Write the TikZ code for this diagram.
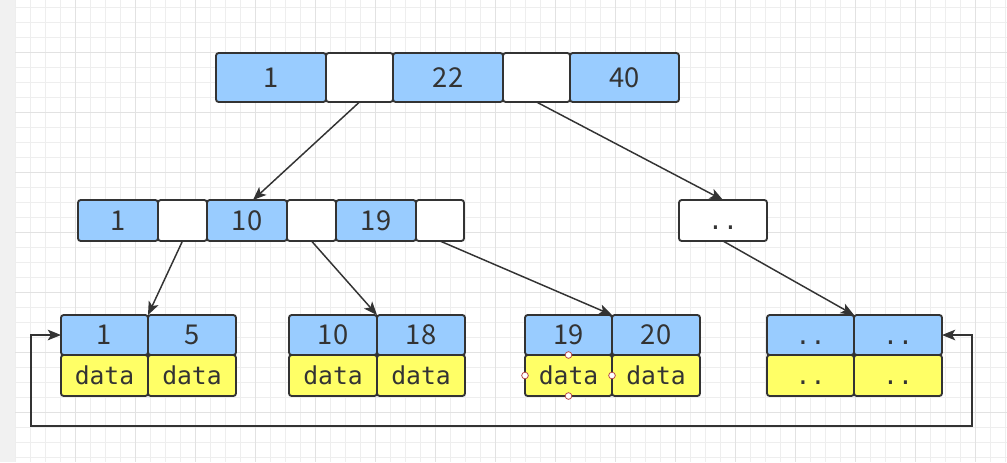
\documentclass[tikz,border=0pt]{standalone}
\usepackage{fontspec}
\setmainfont{Noto Sans CJK SC}
\newfontfamily\monof{DejaVu Sans Mono}
\usetikzlibrary{arrows.meta,calc}
\definecolor{blu}{HTML}{99CCFF}
\definecolor{yel}{HTML}{FFFF66}
\definecolor{ink}{HTML}{333333}
\definecolor{gmin}{HTML}{EEEEEE}
\definecolor{gmaj}{HTML}{E2E2E2}
\definecolor{stripc}{HTML}{F1F1F1}
\definecolor{hdl}{HTML}{B84A4A}
\def\pxu{0.75pt}
\newcommand\cellat[6]{\node[#1, minimum width=#4*\pxu, minimum height=#5*\pxu] (#2) at (#3) {#6};}
\begin{document}
\begin{tikzpicture}[x=0.75pt,y=-0.75pt,
 cell/.style={draw=ink, line width=1.4pt, rounded corners=2pt, inner sep=0pt, outer sep=0pt, text=ink},
 blucell/.style={cell, fill=blu, font=\fontsize{20.5}{24}\selectfont},
 whtcell/.style={cell, fill=white, font=\monof\fontsize{18.5}{22}\selectfont},
 yelcell/.style={cell, fill=yel, font=\monof\fontsize{18.5}{22}\selectfont},
 bdots/.style={cell, fill=blu, font=\monof\fontsize{18.5}{22}\selectfont},
 arr/.style={draw=ink, line width=1.1pt, -{Stealth[length=10pt,width=8pt,inset=2.5pt]}},
 dblarr/.style={draw=ink, line width=1.1pt, {Stealth[length=10pt,width=8pt,inset=2.5pt]}-{Stealth[length=10pt,width=8pt,inset=2.5pt]}},
 hnd/.style={circle, draw=hdl, fill=white, line width=0.6pt, minimum size=5pt, inner sep=0pt}]
\useasboundingbox (0,0) rectangle (1007,462);
% background grid
\fill[white] (0,0) rectangle (1007,462);
\fill[stripc] (0,0) rectangle (15,462);
\foreach \x in {15,30,...,1005} \draw[gmin, line width=0.75pt] (\x,0) -- (\x,462);
\foreach \y in {7,22,...,460} \draw[gmin, line width=0.75pt] (15,\y) -- (1007,\y);
\foreach \x in {75,135,...,1000} \draw[gmaj, line width=0.75pt] (\x,0) -- (\x,462);
\foreach \y in {52,112,...,460} \draw[gmaj, line width=0.75pt] (15,\y) -- (1007,\y);
% top row
\cellat{blucell}{t1}{271,77.5}{110}{49}{1}
\cellat{whtcell}{t2}{359.5,77.5}{67}{49}{}
\cellat{blucell}{t3}{448,77.5}{110}{49}{22}
\cellat{whtcell}{t4}{536.5,77.5}{67}{49}{}
\cellat{blucell}{t5}{624.5,77.5}{109}{49}{40}
% middle row
\cellat{blucell}{m1}{118,220.5}{80}{41}{1}
\cellat{whtcell}{m2}{182.5,220.5}{49}{41}{}
\cellat{blucell}{m3}{247,220.5}{80}{41}{10}
\cellat{whtcell}{m4}{311.5,220.5}{49}{41}{}
\cellat{blucell}{m5}{376,220.5}{80}{41}{19}
\cellat{whtcell}{m6}{440,220.5}{48}{41}{}
\cellat{whtcell}{mr}{723,220.5}{88}{41}{\vphantom{d}..}
% leaves
\cellat{blucell}{L1a}{104.5,335}{87}{40}{1}
\cellat{blucell}{L1c}{192,335}{88}{40}{5}
\cellat{yelcell}{L1b}{104.5,375.5}{87}{41}{data}
\cellat{yelcell}{L1d}{192,375.5}{88}{41}{data}
\cellat{blucell}{L2a}{333,335}{88}{40}{10}
\cellat{blucell}{L2c}{421,335}{88}{40}{18}
\cellat{yelcell}{L2b}{333,375.5}{88}{41}{data}
\cellat{yelcell}{L2d}{421,375.5}{88}{41}{data}
\cellat{blucell}{L3a}{568.5,335}{87}{40}{19}
\cellat{blucell}{L3c}{656,335}{88}{40}{20}
\cellat{yelcell}{L3b}{568.5,375.5}{87}{41}{data}
\cellat{yelcell}{L3d}{656,375.5}{88}{41}{data}
\cellat{bdots}{L4a}{810.5,335}{87}{40}{\vphantom{d}..}
\cellat{bdots}{L4c}{898,335}{88}{40}{\vphantom{d}..}
\cellat{yelcell}{L4b}{810.5,375.5}{87}{41}{\vphantom{d}..}
\cellat{yelcell}{L4d}{898,375.5}{88}{41}{\vphantom{d}..}
% pointers
\draw[arr] (t2.south) -- ([xshift=4.5pt]m3.north);
\draw[arr] (t4.south) -- (mr.north);
\draw[arr] (m2.south) -- (L1a.north east);
\draw[arr] (m4.south) -- (L2a.north east);
\draw[arr] (m6.south) -- (L3a.north east);
\draw[arr] (mr.south) -- (L4a.north east);
% leaf chain
\coordinate (lp) at (31,426);
\coordinate (rp) at (972,426);
\draw[dblarr] (L1a.west) -| (lp) -- (rp) |- (L4c.east);
% selection handles
\node[hnd] (h1) at (L3b.north) {};
\node[hnd] (h2) at (L3b.south) {};
\node[hnd] (h3) at (L3b.west) {};
\node[hnd] (h4) at (L3b.east) {};
\end{tikzpicture}
\end{document}
